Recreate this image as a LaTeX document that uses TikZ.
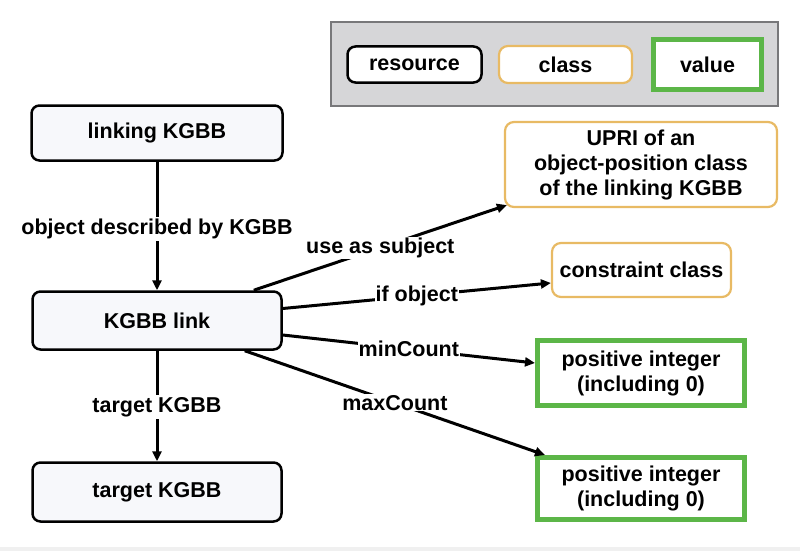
\documentclass[tikz,border=0pt]{standalone}
\usepackage{fontspec}
\setmainfont{Liberation Sans}
\usetikzlibrary{arrows.meta,calc}
\definecolor{orangec}{RGB}{232,186,100}
\definecolor{greenc}{RGB}{92,182,72}
\definecolor{legfill}{RGB}{214,214,216}
\definecolor{legdraw}{RGB}{120,120,122}
\definecolor{resfill}{RGB}{247,248,251}
\begin{document}
\begin{tikzpicture}[x=1pt,y=-1pt,
  every node/.style={font=\fontsize{21.5}{25}\selectfont\bfseries, text=black},
  resbox/.style={draw=black, line width=2.5pt, rounded corners=8pt, fill=resfill, inner sep=0pt},
  clsbox/.style={draw=orangec, line width=2.2pt, rounded corners=9pt, fill=white, inner sep=0pt, align=center},
  valbox/.style={draw=greenc, line width=5pt, fill=white, inner sep=0pt, align=center},
  conn/.style={line width=3pt, -{Triangle[length=10pt,width=9pt]}},
  elabel/.style={fill=white, inner sep=2pt}]
\useasboundingbox (0,0) rectangle (800,551);
\fill[white] (0,0) rectangle (800,551);
\fill[black!6] (0,547) rectangle (800,551);
% legend
\draw[legdraw, fill=legfill, line width=1.5pt] (331,22) rectangle (778,106);
\node[resbox, fill=white, minimum width=134pt, minimum height=36pt] (lres) at (414.5,64.5) {resource};
\node[clsbox, minimum width=133pt, minimum height=37pt] (lcls) at (565.5,64.5) {class};
\node[valbox, minimum width=108pt, minimum height=50pt] (lval) at (707.5,64.5) {value};
% left column
\node[resbox, minimum width=251pt, minimum height=55pt] (linking) at (157,133) {linking KGBB};
\node[resbox, minimum width=249pt, minimum height=58pt] (link) at (157,320.5) {KGBB link};
\node[resbox, minimum width=249pt, minimum height=59pt] (target) at (157,492) {target KGBB};
% right column
\node[clsbox, minimum width=272pt, minimum height=85pt] (upri) at (641,164.5) {UPRI of an\\object-position class\\of the linking KGBB};
\node[clsbox, minimum width=179pt, minimum height=54pt] (cc) at (641.5,270) {constraint class};
\node[valbox, minimum width=207pt, minimum height=65pt] (v1) at (641,373) {positive integer\\(including 0)};
\node[valbox, minimum width=207pt, minimum height=62pt] (v2) at (641,488.5) {positive integer\\(including 0)};
% connectors
\draw[conn] (linking.south) -- node[elabel, pos=0.52] {object described by KGBB} (link.north);
\draw[conn] (link.south) -- node[elabel, pos=0.51] {target KGBB} (target.north);
\draw[conn] ([xshift=-29pt]link.north east) -- node[elabel, inner sep=1pt, pos=0.5] {use as subject} ([xshift=3pt,yshift=3pt]upri.south west);
\draw[conn] ([yshift=12pt]link.east) -- node[elabel, inner sep=1pt, pos=0.5] {if object} ([yshift=-13pt]cc.west);
\draw[conn] ([yshift=-14.5pt]link.east) -- node[elabel, inner sep=1pt, pos=0.5] {minCount} ([yshift=10pt]v1.west);
\draw[conn] ([xshift=-38pt]link.south east) -- node[elabel, inner sep=1pt, pos=0.5] {maxCount} ([xshift=10pt]v2.north west);
\end{tikzpicture}
\end{document}
